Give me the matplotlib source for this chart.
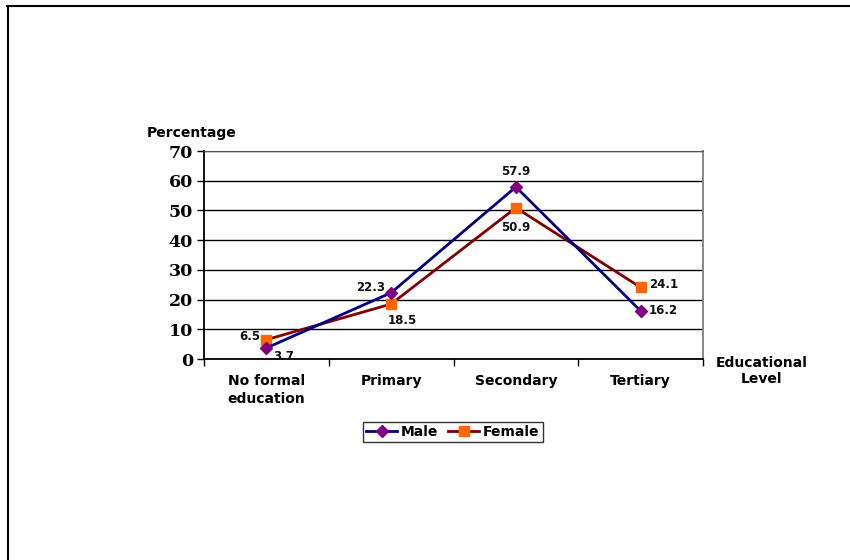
import numpy as np
import matplotlib
matplotlib.use("Agg")
import matplotlib.pyplot as plt
from matplotlib.lines import Line2D

# Data
categories = ["No formal\neducation", "Primary", "Secondary", "Tertiary"]
male = [3.7, 22.3, 57.9, 16.2]
female = [6.5, 18.5, 50.9, 24.1]
y_ticks = [0, 10, 20, 30, 40, 50, 60, 70]

# label offsets in points (dx, dy) and alignment per point
male_off = [(5, -6, "left"), (-4, 4, "right"), (0, 11, "center"), (6, 0, "left")]
female_off = [(-4, 2, "right"), (8, -12, "center"), (0, -14, "center"), (6, 2, "left")]

C_MALE_LINE = "#000080"
C_MALE_MK = "#800080"
C_FEM_LINE = "#800000"
C_FEM_MK = "#FF6600"

SANS = "DejaVu Sans"
SERIF = "DejaVu Serif"

fig = plt.figure(figsize=(8.5, 5.6), dpi=100)
ax = fig.add_axes([204 / 850, 1 - 359 / 560, 499 / 850, 208 / 560])

x = np.arange(len(categories))

ax.plot(x, male, color=C_MALE_LINE, lw=2, marker="D", ms=6.5,
        mfc=C_MALE_MK, mec=C_MALE_MK, zorder=4)
ax.plot(x, female, color=C_FEM_LINE, lw=2, marker="s", ms=7.5,
        mfc=C_FEM_MK, mec=C_FEM_MK, zorder=3)

for xi, v, (dx, dy, ha) in zip(x, male, male_off):
    ax.annotate(f"{v}", (xi, v), xytext=(dx, dy), textcoords="offset points",
                ha=ha, va="center", fontsize=8.5, fontweight="bold",
                family=SANS, color="#111111")
for xi, v, (dx, dy, ha) in zip(x, female, female_off):
    ax.annotate(f"{v}", (xi, v), xytext=(dx, dy), textcoords="offset points",
                ha=ha, va="center", fontsize=8.5, fontweight="bold",
                family=SANS, color="#111111")

# axes and grid
ax.set_xlim(-0.5, len(categories) - 0.5)
ax.set_ylim(0, 70)
ax.set_yticks(y_ticks)
ax.set_yticklabels([str(t) for t in y_ticks], family=SERIF,
                   fontweight="bold", fontsize=12.5)
ax.yaxis.grid(True, color="black", lw=1)
ax.set_axisbelow(True)
ax.tick_params(axis="y", length=5, width=1, pad=3)

ax.set_xticks(np.arange(-0.5, len(categories), 1.0))
ax.set_xticklabels([])
ax.set_xticks(x, minor=True)
ax.set_xticklabels(categories, minor=True, family=SANS,
                   fontweight="bold", fontsize=10, linespacing=1.35)
ax.tick_params(axis="x", which="major", length=5, width=1)
ax.tick_params(axis="x", which="minor", length=0, pad=11)

for s in ["left", "bottom"]:
    ax.spines[s].set_color("black")
    ax.spines[s].set_linewidth(1.3)
ax.spines["top"].set_color("#555555")
ax.spines["right"].set_color("#808080")
ax.spines["right"].set_linewidth(1.3)

fig.text(147 / 850, 1 - 133 / 560, "Percentage", family=SANS,
         fontweight="bold", fontsize=10, ha="left", va="center")
fig.text(762 / 850, 1 - 371 / 560, "Educational\nLevel", family=SANS,
         fontweight="bold", fontsize=10, ha="center", va="center",
         linespacing=1.2)

handles = [
    Line2D([], [], color=C_MALE_LINE, lw=2, marker="D", ms=6.5,
           mfc=C_MALE_MK, mec=C_MALE_MK),
    Line2D([], [], color=C_FEM_LINE, lw=2, marker="s", ms=7.5,
           mfc=C_FEM_MK, mec=C_FEM_MK),
]
leg = fig.legend(handles, ["Male", "Female"], loc="center",
                 bbox_to_anchor=(453 / 850, 1 - 432 / 560), ncol=2,
                 frameon=True, fancybox=False, edgecolor="black",
                 prop={"family": SANS, "weight": "bold", "size": 10},
                 handlelength=2.2, handletextpad=0.3, columnspacing=0.7,
                 borderpad=0.25)
leg.get_frame().set_linewidth(1)

# outer frame (top and left only)
fig.add_artist(Line2D([7 / 850, 1], [1 - 5.5 / 560, 1 - 5.5 / 560],
                      color="black", lw=1.5, transform=fig.transFigure))
fig.add_artist(Line2D([7.5 / 850, 7.5 / 850], [0, 1 - 5.5 / 560],
                      color="black", lw=1.5, transform=fig.transFigure))

fig.savefig("out.png", dpi=100, facecolor="white")
